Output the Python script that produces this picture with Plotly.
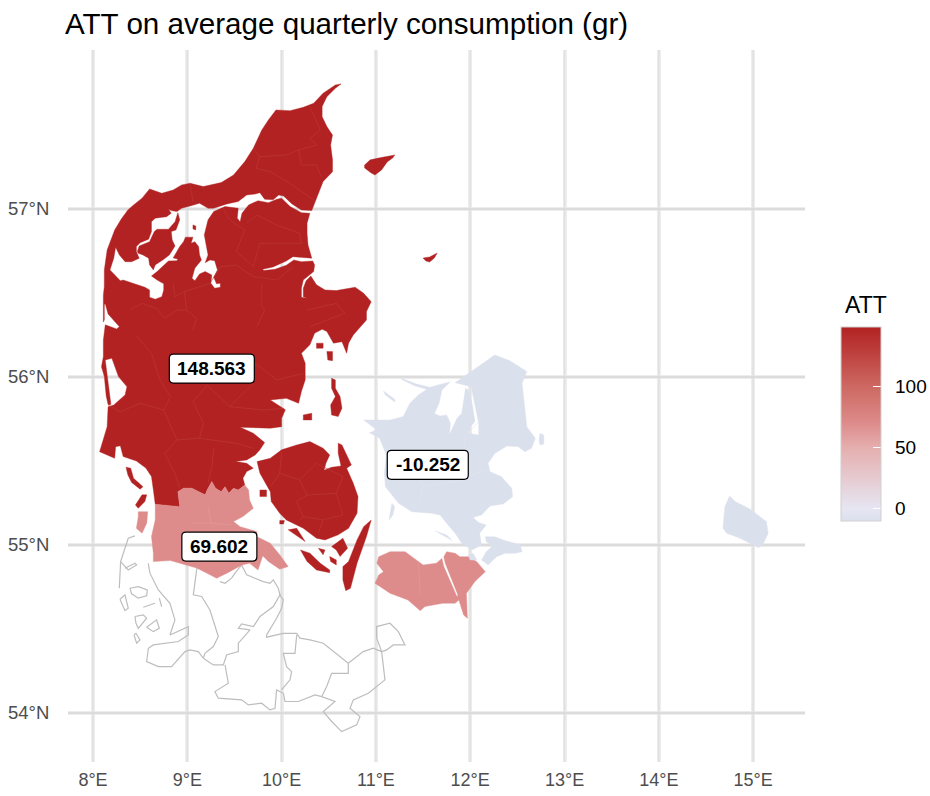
import plotly.graph_objects as go
from plotly.colors import sample_colorscale

TITLE = "ATT on average quarterly consumption (gr)"
LEGEND_TITLE = "ATT"
LON_TICKS = [8, 9, 10, 11, 12, 13, 14, 15]
LAT_TICKS = [54, 55, 56, 57]
LEGEND_TICKS = [0, 50, 100]
ATT_JUTLAND = 148.563
ATT_SOUTH = 69.602
ATT_EAST = -10.252

SJ_BORDER = [(9.61,55.357),(9.54,55.327),(9.49,55.338),(9.44,55.308),(9.40,55.347),(9.36,55.317),(9.30,55.338),(9.26,55.377),(9.21,55.327),(9.19,55.298),(9.12,55.317),(9.05,55.338),(8.96,55.338),(8.90,55.317),(8.92,55.228),(8.66,55.242)]

# Skagen, east coast, then the north bank of the Limfjord westwards
VENDSYSSEL_BANK = [(10.63,57.744),(10.57,57.718),(10.48,57.668),(10.43,57.609),(10.43,57.549),(10.48,57.490),(10.54,57.440),(10.52,57.381),(10.54,57.292),(10.54,57.222),(10.44,57.163),(10.40,57.103),(10.36,57.044),(10.32,56.990),(10.21,56.994),(10.11,57.030),(10.02,57.077),(9.97,57.083),(9.91,57.054),(9.82,57.058),(9.77,57.097),(9.72,57.089),(9.63,57.083),(9.54,57.044),(9.42,57.030),(9.28,57.004),(9.22,57.004),(9.13,57.034),(9.03,57.018),(8.94,57.004),(8.89,56.984),(8.83,56.990),(8.80,56.998),(8.83,56.974),(8.78,56.954),(8.66,56.945),(8.62,56.924),(8.62,56.865),(8.59,56.820),(8.50,56.799),(8.46,56.776),(8.46,56.746),(8.49,56.706),(8.41,56.686),(8.34,56.686),(8.28,56.726),(8.24,56.772),(8.22,56.706)]
# West coast north of the fjord and the north coast up to Skagen
THY_COAST = [(8.15,56.756),(8.23,56.875),(8.30,56.940),(8.37,56.994),(8.43,57.024),(8.52,57.064),(8.60,57.119),(8.73,57.093),(8.85,57.113),(8.94,57.143),(9.03,57.153),(9.17,57.133),(9.36,57.157),(9.49,57.202),(9.61,57.282),(9.70,57.361),(9.79,57.470),(9.86,57.530),(9.94,57.589),(10.09,57.585),(10.23,57.605),(10.34,57.629),(10.44,57.689),(10.57,57.738)]

JUTLAND_EAST = [(10.30,56.974),(10.27,56.915),(10.27,56.855),(10.28,56.786),(10.32,56.707),(10.21,56.710),(10.12,56.716),(10.05,56.690),(9.91,56.655),(9.80,56.641),(9.81,56.633),(9.93,56.641),(10.05,56.665),(10.13,56.696),(10.21,56.686),(10.33,56.690),(10.35,56.667),(10.34,56.627),(10.28,56.601),(10.23,56.577),(10.21,56.528),(10.21,56.474),(10.27,56.468),(10.23,56.478),(10.23,56.528),(10.26,56.573),(10.31,56.601),(10.37,56.548),(10.46,56.518),(10.58,56.514),(10.78,56.534),(10.87,56.498),(10.95,56.448),(10.90,56.389),(10.90,56.339),(10.76,56.250),(10.71,56.201),(10.69,56.141),(10.64,56.210),(10.55,56.201),(10.48,56.270),(10.43,56.284),(10.35,56.260),(10.30,56.191),(10.21,56.141),(10.25,56.082),(10.25,55.982),(10.21,55.913),(10.18,55.843),(10.05,55.873),(9.88,55.863),(9.96,55.833),(10.04,55.804),(10.00,55.754),(10.00,55.704),(9.88,55.695),(9.56,55.701),(9.70,55.665),(9.77,55.635),(9.82,55.609),(9.77,55.566),(9.72,55.536),(9.63,55.506),(9.51,55.496),(9.63,55.486),(9.70,55.457),(9.63,55.437),(9.59,55.397)]

JUTLAND_WEST_COAST = [(8.64,55.327),(8.62,55.407),(8.56,55.458),(8.46,55.500),(8.32,55.526),(8.29,55.590),(8.24,55.585),(8.23,55.516),(8.07,55.555),(8.15,55.704),(8.16,55.822),(8.22,55.833),(8.34,55.893),(8.36,55.942),(8.27,56.002),(8.20,56.111),(8.13,56.101),(8.15,56.002),(8.18,55.863),(8.19,55.836),(8.16,55.835),(8.14,55.887),(8.12,56.002),(8.09,56.061),(8.11,56.121),(8.11,56.220),(8.13,56.310),(8.25,56.286),(8.28,56.298),(8.23,56.333),(8.16,56.375),(8.13,56.435),(8.12,56.429),(8.12,56.339),(8.11,56.327),(8.11,56.399),(8.11,56.488),(8.12,56.538),(8.12,56.637)]

FJORD_SOUTH_BANK = [(8.18,56.637),(8.29,56.573),(8.32,56.577),(8.41,56.561),(8.52,56.542),(8.55,56.534),(8.60,56.518),(8.60,56.474),(8.66,56.463),(8.73,56.478),(8.75,56.518),(8.75,56.554),(8.68,56.577),(8.62,56.601),(8.68,56.627),(8.76,56.667),(8.80,56.690),(8.89,56.692),(8.90,56.702),(8.85,56.708),(8.92,56.776),(8.96,56.805),(8.98,56.832),(9.06,56.832),(9.04,56.796),(9.08,56.805),(9.12,56.776),(9.13,56.726),(9.15,56.696),(9.08,56.647),(9.05,56.587),(9.08,56.573),(9.13,56.613),(9.19,56.627),(9.26,56.607),(9.25,56.558),(9.29,56.528),(9.35,56.534),(9.35,56.558),(9.31,56.554),(9.28,56.593),(9.32,56.637),(9.29,56.692),(9.24,56.696),(9.19,56.680),(9.22,56.726),(9.20,56.776),(9.18,56.845),(9.22,56.935),(9.28,56.984),(9.40,57.014),(9.54,57.004),(9.53,56.945),(9.56,56.924),(9.58,56.974),(9.65,57.024),(9.75,57.049),(9.86,57.037),(9.95,57.058),(10.00,57.064),(10.09,57.014),(10.21,56.978)]

MORS = [(8.47,56.746),(8.49,56.780),(8.60,56.805),(8.65,56.865),(8.68,56.879),(8.80,56.879),(8.87,56.924),(8.90,56.978),(8.92,56.935),(8.88,56.875),(8.83,56.865),(8.84,56.815),(8.87,56.780),(8.81,56.726),(8.74,56.696),(8.66,56.667),(8.64,56.637),(8.60,56.667),(8.59,56.706),(8.53,56.726),(8.48,56.736)]
FJORD_ISLET = [(9.06,56.905),(9.09,56.899),(9.09,56.875),(9.06,56.881)]
LAESOE = [(10.88,57.262),(10.94,57.292),(11.04,57.304),(11.20,57.321),(11.18,57.304),(11.12,57.280),(11.06,57.232),(10.99,57.202),(10.95,57.214),(10.88,57.244)]
ANHOLT = [(11.50,56.708),(11.57,56.714),(11.65,56.738),(11.62,56.708),(11.57,56.684),(11.53,56.690)]
SAMSOE = [(10.53,55.992),(10.57,55.982),(10.57,55.933),(10.62,55.883),(10.64,55.814),(10.60,55.764),(10.53,55.774),(10.52,55.833),(10.57,55.883),(10.53,55.933)]
ENDELAVE = [(10.23,55.774),(10.32,55.784),(10.32,55.744),(10.23,55.744)]
TUNOE = [(10.37,56.201),(10.44,56.201),(10.44,56.171),(10.37,56.171)]
NORSMINDE = [(10.48,56.151),(10.54,56.151),(10.54,56.097),(10.49,56.101)]
FANOE = [(8.35,55.463),(8.40,55.457),(8.43,55.397),(8.53,55.347),(8.50,55.332),(8.41,55.371),(8.37,55.417)]
MANDOE = [(8.52,55.298),(8.57,55.298),(8.55,55.258),(8.48,55.218),(8.45,55.238)]
FUNEN = [(10.30,55.615),(10.44,55.576),(10.51,55.536),(10.47,55.486),(10.45,55.445),(10.53,55.462),(10.63,55.470),(10.60,55.546),(10.60,55.606),(10.64,55.595),(10.74,55.476),(10.69,55.457),(10.76,55.367),(10.81,55.288),(10.80,55.189),(10.71,55.099),(10.60,55.060),(10.46,55.030),(10.37,55.040),(10.23,55.099),(10.05,55.149),(9.98,55.189),(9.89,55.258),(9.88,55.317),(9.77,55.427),(9.74,55.496),(9.88,55.516),(10.00,55.566),(10.16,55.595)]
LANGELAND = [(10.95,55.148),(10.90,55.050),(10.80,54.891),(10.73,54.742),(10.68,54.728),(10.65,54.792),(10.65,54.871),(10.71,54.901),(10.80,55.030),(10.87,55.109)]
AEROE = [(10.20,54.970),(10.30,54.951),(10.41,54.891),(10.51,54.851),(10.51,54.835),(10.37,54.851),(10.27,54.901)]
TAASINGE = [(10.53,54.990),(10.65,55.040),(10.70,54.980),(10.62,54.931),(10.58,54.970)]
ISLET_A = [(10.07,55.090),(10.16,55.099),(10.25,55.020),(10.14,55.060)]
ISLET_B = [(10.39,54.980),(10.46,54.970),(10.44,54.941)]
ISLET_C = [(10.51,54.931),(10.58,54.911),(10.58,54.881),(10.52,54.901)]
ISLET_D = [(9.98,55.145),(10.03,55.145),(10.02,55.125),(9.98,55.125)]
ISLET_E = [(9.77,55.327),(9.84,55.327),(9.84,55.288),(9.77,55.288)]

SOUTH_MAIN = [(9.65,55.327),(9.66,55.268),(9.70,55.218),(9.59,55.169),(9.49,55.139),(9.56,55.109),(9.74,55.079),(9.74,55.049),(9.88,55.010),(9.98,54.941),(10.07,54.871),(9.98,54.856),(9.86,54.901),(9.80,54.935),(9.75,54.851),(9.66,54.891),(9.58,54.881),(9.42,54.832),(9.31,54.802),(9.24,54.822),(9.10,54.862),(8.82,54.907),(8.64,54.901),(8.64,54.951),(8.62,55.050),(8.66,55.149)]
ROEMOE = [(8.48,55.198),(8.58,55.198),(8.57,55.129),(8.52,55.070),(8.46,55.099),(8.48,55.168)]
LOLLAND = [(11.03,54.930),(11.15,54.960),(11.31,54.960),(11.40,54.920),(11.50,54.881),(11.64,54.891),(11.70,54.920),(11.72,54.871),(11.80,54.772),(11.86,54.692),(11.87,54.702),(11.815,54.776),(11.735,54.891),(11.72,54.930),(11.75,54.960),(11.84,54.950),(11.89,54.930),(11.98,54.930),(12.07,54.900),(12.16,54.841),(12.05,54.782),(11.96,54.712),(11.97,54.563),(11.93,54.583),(11.88,54.672),(11.84,54.653),(11.71,54.653),(11.52,54.633),(11.47,54.609),(11.34,54.672),(11.15,54.712),(10.99,54.772),(11.03,54.821),(11.08,54.841),(11.01,54.891)]

ZEALAND = [(11.27,55.992),(11.43,55.958),(11.57,55.938),(11.79,55.972),(11.70,55.922),(11.67,55.843),(11.62,55.783),(11.68,55.768),(11.75,55.774),(11.79,55.724),(11.78,55.658),(11.83,55.714),(11.86,55.754),(11.91,55.783),(11.93,55.863),(11.95,55.932),(11.98,55.922),(12.02,55.843),(12.05,55.734),(12.00,55.700),(11.98,55.664),(12.09,55.655),(12.09,55.724),(12.05,55.843),(12.01,55.942),(11.84,55.966),(11.96,56.012),(12.26,56.131),(12.42,56.097),(12.60,56.032),(12.55,55.962),(12.58,55.823),(12.60,55.704),(12.69,55.635),(12.65,55.575),(12.58,55.555),(12.51,55.585),(12.39,55.589),(12.26,55.545),(12.19,55.486),(12.21,55.436),(12.33,55.407),(12.44,55.337),(12.45,55.287),(12.35,55.244),(12.21,55.232),(12.12,55.178),(12.03,55.164),(12.09,55.133),(12.17,55.119),(12.10,55.069),(12.12,55.000),(12.02,54.970),(11.91,55.010),(11.84,55.069),(11.75,55.129),(11.68,55.178),(11.59,55.188),(11.38,55.198),(11.24,55.248),(11.10,55.347),(11.09,55.426),(11.11,55.535),(11.04,55.635),(10.93,55.668),(11.01,55.684),(10.87,55.744),(10.99,55.744),(11.15,55.744),(11.29,55.764),(11.36,55.843),(11.45,55.893),(11.54,55.926),(11.41,55.948),(11.27,55.986)]
SEJEROE = [(11.08,55.916),(11.20,55.867),(11.20,55.851),(11.10,55.893)]
MOEN = [(12.16,55.049),(12.26,55.049),(12.35,55.030),(12.53,55.000),(12.55,54.960),(12.48,54.950),(12.37,54.950),(12.28,54.930),(12.19,54.881),(12.12,54.910),(12.17,54.960),(12.23,54.990),(12.17,55.020)]
SALTHOLM = [(12.74,55.664),(12.78,55.655),(12.78,55.601),(12.74,55.595),(12.73,55.625)]
OMOE = [(11.17,55.248),(11.20,55.228),(11.18,55.178),(11.14,55.149),(11.15,55.188)]
ENOE = [(11.63,55.083),(11.75,55.059),(11.81,55.026),(11.75,55.045)]
BOGOE = [(11.98,54.940),(12.03,54.950),(12.07,54.910),(12.00,54.910)]
BORNHOLM = [(14.75,55.292),(14.81,55.258),(14.97,55.213),(15.14,55.139),(15.16,55.070),(15.11,55.010),(15.06,54.984),(14.86,55.040),(14.72,55.070),(14.68,55.100),(14.70,55.228)]

GERMANY_LINES = [
 [(8.445,55.054),(8.374,55.040),(8.339,54.980),(8.293,54.901),(8.279,54.742)],
 [(8.293,54.901),(8.374,54.851),(8.463,54.881),(8.445,54.891),(8.339,54.861)],
 [(8.586,54.891),(8.604,54.832),(8.693,54.732),(8.816,54.653),(8.869,54.554),(8.816,54.464),(9.011,54.514),(9.011,54.464),(8.905,54.425),(8.640,54.405),(8.587,54.385),(8.569,54.306),(8.693,54.276),(8.834,54.276),(8.975,54.365),(9.028,54.375),(9.117,54.365),(9.170,54.326),(9.187,54.355),(9.276,54.395),(9.329,54.455),(9.240,54.613),(9.152,54.693),(9.064,54.703),(9.099,54.851),(9.106,54.865)],
 [(9.170,54.326),(9.276,54.286),(9.382,54.286),(9.417,54.345),(9.541,54.365),(9.541,54.415),(9.665,54.494),(9.541,54.504),(9.576,54.530),(9.700,54.514),(9.771,54.574),(9.912,54.633),(9.983,54.703),(10.018,54.673),(10.000,54.623),(9.947,54.564),(9.841,54.464),(9.841,54.451),(10.018,54.474),(10.160,54.474),(10.195,54.445),(10.301,54.435),(10.442,54.415),(10.654,54.316),(10.707,54.296),(10.866,54.365),(10.972,54.385),(11.061,54.365),(11.008,54.445),(11.008,54.514),(11.149,54.534),(11.238,54.484),(11.308,54.405),(11.185,54.405),(11.114,54.375),(11.061,54.365),(11.096,54.197),(10.920,54.117),(10.760,54.078),(10.725,54.028),(10.831,53.978),(10.796,53.929),(10.637,53.889),(10.531,53.949),(10.442,54.008),(10.566,54.068),(10.425,54.097),(10.478,54.157),(10.531,54.236),(10.707,54.236),(10.707,54.296)],
 [(9.400,54.286),(9.435,54.177),(9.293,54.127),(9.329,54.088),(9.576,54.078),(9.647,54.048),(9.788,54.058),(9.877,54.018),(9.930,54.028),(9.947,54.137),(10.018,54.117),(10.036,54.068),(10.177,54.068),(10.354,54.107),(10.425,54.097)],
 [(9.576,54.881),(9.629,54.822),(9.806,54.782),(9.877,54.772),(9.912,54.792),(9.965,54.742),(9.983,54.703)],
 [(9.347,54.782),(9.400,54.772),(9.470,54.802),(9.506,54.832),(9.576,54.881)],
 [(10.160,54.464),(10.142,54.355),(10.018,54.355),(10.053,54.276),(10.106,54.246),(10.089,54.197),(10.000,54.137)],
 [(8.392,54.742),(8.480,54.752),(8.576,54.732),(8.569,54.697),(8.480,54.683),(8.410,54.709),(8.392,54.742)],
 [(8.286,54.677),(8.339,54.703),(8.374,54.623),(8.339,54.609),(8.286,54.677)],
 [(8.569,54.510),(8.675,54.554),(8.703,54.504),(8.640,54.484),(8.569,54.510)],
 [(8.445,54.574),(8.533,54.584),(8.569,54.564),(8.480,54.504),(8.456,54.534),(8.445,54.574)],
 [(8.533,54.629),(8.657,54.653)],
 [(8.703,54.683),(8.728,54.633)],
 [(8.435,54.464),(8.463,54.415),(8.498,54.435),(8.456,54.474),(8.435,54.464)],
]

RED_BORDERS = [
 [(10.30,57.609),(10.41,57.470),(10.30,57.420),(10.37,57.381),(10.18,57.351),(10.21,57.262),(10.37,57.262),(10.42,57.192)],
 [(9.70,57.361),(9.77,57.311),(9.73,57.242),(9.88,57.222),(10.09,57.152),(10.34,57.053)],
 [(9.77,57.311),(10.05,57.321),(10.18,57.351)],
 [(9.03,57.152),(9.06,57.043)],
 [(9.38,57.004),(9.45,56.934),(9.61,56.875),(9.52,56.746),(9.70,56.657),(9.77,56.795),(9.95,56.795),(10.21,56.795),(10.19,56.855),(9.95,56.904),(9.74,56.964),(9.63,56.914)],
 [(9.35,56.656),(9.52,56.666),(9.70,56.597),(9.95,56.577),(10.12,56.656)],
 [(9.79,56.557),(9.79,56.418),(9.82,56.398),(9.74,56.299)],
 [(8.85,56.557),(8.87,56.478),(8.97,56.508),(9.24,56.557),(9.35,56.656)],
 [(8.97,56.508),(8.99,56.398),(9.10,56.349),(9.06,56.279)],
 [(8.39,56.399),(8.52,56.438),(8.67,56.408),(8.76,56.349),(8.89,56.399),(8.99,56.398)],
 [(10.27,56.398),(10.58,56.438),(10.67,56.379),(10.30,56.299)],
 [(8.45,56.250),(8.62,56.141),(8.71,55.982),(8.82,55.883),(8.75,55.803),(8.89,55.625),(8.76,55.545),(8.87,55.426),(8.92,55.337)],
 [(8.16,55.833),(8.29,55.793),(8.50,55.843),(8.75,55.803)],
 [(9.21,55.952),(9.06,55.853),(9.17,55.724),(9.13,55.635),(8.89,55.625)],
 [(9.21,55.952),(9.45,55.823),(9.81,55.803),(10.02,55.813)],
 [(9.13,55.635),(9.52,55.605),(9.70,55.575)],
 [(9.28,55.575),(9.26,55.466),(9.22,55.367)],
 [(9.72,56.081),(9.95,55.982),(10.23,56.021)],
 [(9.72,56.081),(9.70,55.961),(9.45,55.823)],
 [(10.00,55.555),(9.98,55.426),(9.88,55.347)],
 [(9.98,55.426),(10.19,55.387),(10.27,55.297),(10.16,55.258),(10.23,55.168),(10.19,55.149)],
 [(10.19,55.387),(10.37,55.486)],
 [(10.27,55.297),(10.58,55.307),(10.65,55.406),(10.37,55.486)],
 [(10.23,55.168),(10.44,55.149),(10.65,55.178),(10.58,55.307)],
 [(10.44,55.149),(10.39,55.069)],
]
PINK_BORDERS = [
 [(9.22,55.230),(9.25,55.130),(9.47,55.120)],
 [(9.05,55.130),(9.25,55.130)],
 [(11.45,54.885),(11.47,54.700)],
]
BLUE_BORDERS = [
 [(11.40,55.500),(11.50,55.350),(11.45,55.230)],
 [(11.50,55.350),(11.90,55.380),(12.15,55.450)],
 [(11.90,55.380),(11.95,55.650),(12.20,55.800)],
]

LABELS = [(9.26, 56.05, "148.563", 42.5), (9.34, 54.99, "69.602", 37.5), (11.55, 55.477, "-10.252", 40.5)]

# ---------------------------------------------------------------
XR = [7.735, 15.55]
YR = [53.708, 57.946]
L, R, T, B = 68, 125, 50, 34
W, H = 930, 796
PLOT_W, PLOT_H = W - L - R, H - T - B
PX_X = (XR[1] - XR[0]) / PLOT_W
PX_Y = (YR[1] - YR[0]) / PLOT_H

COLORSCALE = [[0.0, "#DBE0ED"], [0.0645, "#E6E6F2"], [0.379, "#E5AEAE"], [0.503, "#DD8C8B"], [0.694, "#CD6862"], [1.0, "#B22222"]]
VMIN, VMAX = ATT_EAST, ATT_JUTLAND


def colour(v):
    return sample_colorscale(COLORSCALE, [(v - VMIN) / (VMAX - VMIN)], colortype="rgb")[0]


def join(polys, close=True):
    xs, ys = [], []
    for p in polys:
        pts = list(p) + ([p[0]] if close else [])
        xs += [q[0] for q in pts] + [None]
        ys += [q[1] for q in pts] + [None]
    return xs, ys


fig = go.Figure()

gx, gy = [], []
for v in LON_TICKS:
    gx += [v, v, None]
    gy += [YR[0], YR[1], None]
fig.add_trace(go.Scatter(x=gx, y=gy, mode="lines", line=dict(color="#e0e0e0", width=1.5), hoverinfo="skip", showlegend=False))
gx, gy = [], []
for v in LAT_TICKS:
    gx += [XR[0], XR[1], None]
    gy += [v, v, None]
fig.add_trace(go.Scatter(x=gx, y=gy, mode="lines", line=dict(color="#d6d6d6", width=1.6), hoverinfo="skip", showlegend=False))

x, y = join(GERMANY_LINES, close=False)
fig.add_trace(go.Scatter(x=x, y=y, mode="lines", line=dict(color="#bdbdbd", width=1.2), hoverinfo="skip", showlegend=False))

jutland = JUTLAND_EAST + SJ_BORDER + JUTLAND_WEST_COAST + THY_COAST + VENDSYSSEL_BANK + FJORD_SOUTH_BANK
pink_main = SJ_BORDER[::-1] + SOUTH_MAIN

regions = [
    (ATT_JUTLAND, [jutland, MORS, FJORD_ISLET, LAESOE, ANHOLT, SAMSOE, ENDELAVE, TUNOE, NORSMINDE, FANOE, MANDOE, FUNEN, LANGELAND, AEROE, TAASINGE, ISLET_A, ISLET_B, ISLET_C, ISLET_D, ISLET_E], RED_BORDERS, "#BC3A35"),
    (ATT_SOUTH, [pink_main, ROEMOE, LOLLAND], PINK_BORDERS, "#E29C9B"),
    (ATT_EAST, [ZEALAND, SEJEROE, MOEN, SALTHOLM, OMOE, ENOE, BOGOE, BORNHOLM], BLUE_BORDERS, "#E1E5F0"),
]
for val, polys, borders, bcol in regions:
    x, y = join(polys)
    c = colour(val)
    fig.add_trace(go.Scatter(x=x, y=y, mode="lines", fill="toself", fillcolor=c, line=dict(color=c, width=0.4), hoverinfo="skip", showlegend=False))
    if borders:
        x, y = join(borders, close=False)
        fig.add_trace(go.Scatter(x=x, y=y, mode="lines", line=dict(color=bcol, width=0.6), hoverinfo="skip", showlegend=False))

# colour legend
BAR_LEFT, BAR_TOP, BAR_BOTTOM = 841, 327, 521
fig.add_trace(go.Scatter(
    x=[XR[0], XR[0]], y=[YR[0], YR[0]], mode="markers", hoverinfo="skip", showlegend=False,
    marker=dict(size=1, opacity=0, color=[VMIN, VMAX], cmin=VMIN, cmax=VMAX, colorscale=COLORSCALE, showscale=True,
                colorbar=dict(
                    thickness=40, thicknessmode="pixels", len=(BAR_BOTTOM - BAR_TOP) / PLOT_H, lenmode="fraction",
                    x=(BAR_LEFT - L) / PLOT_W, xanchor="left", xpad=0,
                    y=(H - B - BAR_BOTTOM) / PLOT_H, yanchor="bottom", ypad=0,
                    tickvals=LEGEND_TICKS, ticks="inside", ticklen=8, tickwidth=1, tickcolor="white",
                    showticklabels=False,
                    outlinewidth=1, outlinecolor="#d0d0d0",
                ))))

shapes = []
annotations = [dict(x=(843 - L) / PLOT_W, y=(H - B - 305) / PLOT_H, xref="paper", yref="paper", xanchor="left", yanchor="middle",
                    text=LEGEND_TITLE, showarrow=False, font=dict(size=23, color="black", family="Liberation Sans"))]
for t in LEGEND_TICKS:
    yy = (H - B - BAR_BOTTOM + (t - VMIN) / (VMAX - VMIN) * (BAR_BOTTOM - BAR_TOP)) / PLOT_H
    xx = (BAR_LEFT - L) / PLOT_W
    shapes.append(dict(type="line", xref="paper", yref="paper", x0=xx, x1=xx + 8 / PLOT_W, y0=yy, y1=yy, line=dict(color="white", width=1)))
    annotations.append(dict(x=(893 - L) / PLOT_W, y=yy, xref="paper", yref="paper", xanchor="left", yanchor="middle",
                            text=str(t), showarrow=False, font=dict(size=19, color="black", family="Liberation Sans")))

for lon, lat, text, half_w in LABELS:
    hx, hy, rx, ry = half_w * PX_X, 14.5 * PX_Y, 4 * PX_X, 4 * PX_Y
    x0, x1, y0, y1 = lon - hx, lon + hx, lat - hy, lat + hy
    path = (f"M {x0 + rx} {y0} L {x1 - rx} {y0} Q {x1} {y0} {x1} {y0 + ry} L {x1} {y1 - ry} Q {x1} {y1} {x1 - rx} {y1} "
            f"L {x0 + rx} {y1} Q {x0} {y1} {x0} {y1 - ry} L {x0} {y0 + ry} Q {x0} {y0} {x0 + rx} {y0} Z")
    shapes.append(dict(type="path", path=path, xref="x", yref="y", fillcolor="white", line=dict(color="black", width=1.2), layer="above"))
    annotations.append(dict(x=lon, y=lat, text=f"<b>{text}</b>", showarrow=False, xref="x", yref="y",
                            font=dict(size=19, color="black", family="Liberation Sans")))

axis_common = dict(showline=False, zeroline=False, showgrid=True, gridcolor="#ededed", gridwidth=4,
                   ticks="outside", tickcolor="rgba(0,0,0,0)")
fig.update_layout(
    width=W, height=H, autosize=False,
    margin=dict(l=L, r=R, t=T, b=B, pad=0, autoexpand=False),
    paper_bgcolor="white", plot_bgcolor="white",
    title=dict(text=TITLE, x=65 / W, xanchor="left", y=1 - 24 / H, yanchor="middle",
               font=dict(size=29.6, color="black", family="Liberation Sans")),
    xaxis=dict(range=XR, tickvals=LON_TICKS, ticktext=[f"{v}°E" for v in LON_TICKS], ticklen=1,
               tickfont=dict(size=18, color="#4d4d4d", family="Liberation Sans"), **axis_common),
    yaxis=dict(range=YR, tickvals=LAT_TICKS, ticktext=[f"{v}°N" for v in LAT_TICKS], ticklen=14,
               tickfont=dict(size=18.5, color="#4d4d4d", family="Liberation Sans"), **axis_common),
    shapes=shapes, annotations=annotations, showlegend=False,
)
fig.write_html("out.html", post_script="document.body.style.margin='0';", config={"displayModeBar": False})
